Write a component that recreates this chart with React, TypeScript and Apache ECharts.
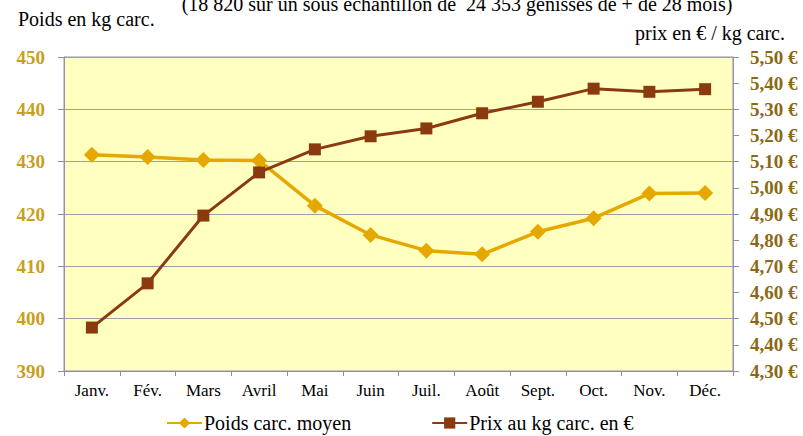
import React, { useEffect, useRef } from "react";
import * as echarts from "echarts";

const months = ["Janv.", "Fév.", "Mars", "Avril", "Mai", "Juin", "Juil.", "Août", "Sept.", "Oct.", "Nov.", "Déc."];
const poids = [431.3, 430.9, 430.3, 430.2, 421.6, 416.0, 413.0, 412.3, 416.6, 419.2, 423.9, 424.0];
const prix = [4.466, 4.635, 4.894, 5.059, 5.147, 5.197, 5.227, 5.285, 5.329, 5.379, 5.367, 5.377];
const seriesNames = ["Poids carc. moyen", "Prix au kg carc. en €"];
const titleText = "(18 820 sur un sous échantillon de  24 353 génisses de + de 28 mois)";
const leftAxisTitle = "Poids en kg carc.";
const rightAxisTitle = "prix en € / kg carc.";

const FONT = "Liberation Serif";

export default function App() {
  const ref = useRef<HTMLDivElement>(null);
  useEffect(() => {
    if (!ref.current) return;
    const chart = echarts.init(ref.current, undefined, { renderer: "svg" });
    chart.setOption({
      animation: false,
      backgroundColor: "#ffffff",
      textStyle: { fontFamily: FONT },
      grid: {
        left: 64,
        right: 70,
        top: 57,
        bottom: 65,
        show: true,
        backgroundColor: "#FFFFC0",
        borderColor: "#9890B0",
        borderWidth: 1,
      },
      graphic: [
        {
          type: "text",
          style: {
            text: titleText,
            x: 457,
            y: 4,
            align: "center",
            verticalAlign: "middle",
            fontFamily: FONT,
            fontSize: 20,
            fill: "#000",
          },
        },
        {
          type: "text",
          style: {
            text: leftAxisTitle,
            x: 18,
            y: 19,
            align: "left",
            verticalAlign: "middle",
            fontFamily: FONT,
            fontSize: 20,
            fill: "#000",
          },
        },
        {
          type: "text",
          style: {
            text: rightAxisTitle,
            x: 785,
            y: 33,
            align: "right",
            verticalAlign: "middle",
            fontFamily: FONT,
            fontSize: 20,
            fill: "#000",
          },
        },
      ],
      legend: {
        top: 413,
        left: 166,
        padding: 0,
        itemWidth: 35,
        itemHeight: 14,
        itemGap: 80,
        textStyle: { fontFamily: FONT, fontSize: 20, color: "#000", padding: [0, 0, 0, -3] },
        data: seriesNames,
      },
      xAxis: {
        type: "category",
        data: months,
        boundaryGap: true,
        axisLine: { lineStyle: { color: "#8C8CA4", width: 1 } },
        axisTick: { show: true, length: 5, lineStyle: { color: "#8C8CA4" } },
        axisLabel: { color: "#000", fontFamily: FONT, fontSize: 17, margin: 11, interval: 0 },
      },
      yAxis: [
        {
          type: "value",
          min: 390,
          max: 450,
          interval: 10,
          position: "left",
          axisLine: { show: true, lineStyle: { color: "#9890B0" } },
          axisTick: { show: true, length: 6, lineStyle: { color: "#8C8CA4" } },
          splitLine: { show: true, lineStyle: { color: "#A0A0A0", width: 1 } },
          axisLabel: { color: "#C8A020", fontFamily: FONT, fontSize: 19, fontWeight: "bold", margin: 19 },
        },
        {
          type: "value",
          min: 4.3,
          max: 5.5,
          interval: 0.1,
          position: "right",
          axisLine: { show: true, lineStyle: { color: "#9890B0" } },
          axisTick: { show: true, length: 6, lineStyle: { color: "#8C8CA4" } },
          splitLine: { show: false },
          axisLabel: {
            color: "#8B6914",
            fontFamily: FONT,
            fontSize: 19,
            fontWeight: "bold",
            margin: 17,
            formatter: (v: number) => v.toFixed(2).replace(".", ",") + " €",
          },
        },
      ],
      series: [
        {
          name: seriesNames[0],
          type: "line",
          yAxisIndex: 0,
          data: poids,
          symbol: "diamond",
          symbolSize: 16,
          lineStyle: { color: "#E5A800", width: 3.5 },
          itemStyle: { color: "#E5A800" },
        },
        {
          name: seriesNames[1],
          type: "line",
          yAxisIndex: 1,
          data: prix,
          symbol: "rect",
          symbolSize: 12,
          lineStyle: { color: "#8B3A0F", width: 3 },
          itemStyle: { color: "#8B3A0F" },
        },
      ],
    });
    return () => chart.dispose();
  }, []);
  return <div ref={ref} style={{ width: 803, height: 436, position: "absolute", left: 0, top: 0 }} />;
}
